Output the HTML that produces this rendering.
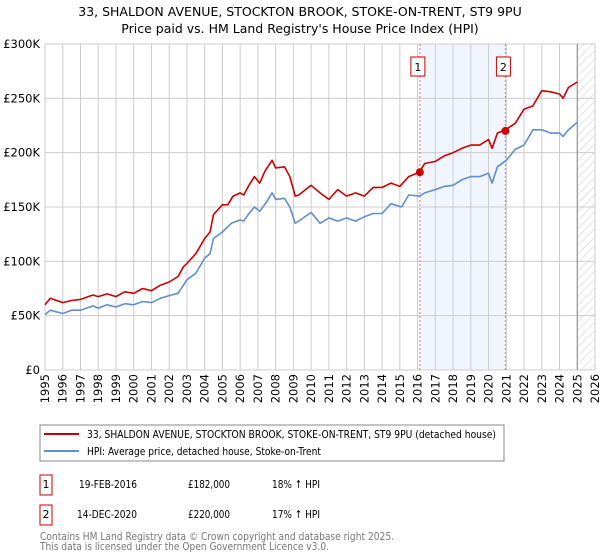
<!DOCTYPE html>
<html><head><meta charset="utf-8">
<style>
body{margin:0;background:#fff;font-family:"DejaVu Sans","Liberation Sans",sans-serif;}
#wrap{position:relative;width:600px;height:560px;overflow:hidden;}
</style></head>
<body><div id="wrap">
<svg id="chart" width="600" height="560" xmlns="http://www.w3.org/2000/svg" font-family="DejaVu Sans, Liberation Sans, sans-serif">
<text x="300" y="16" text-anchor="middle" font-size="12.5" fill="#000">33, SHALDON AVENUE, STOCKTON BROOK, STOKE-ON-TRENT, ST9 9PU</text>
<text x="300" y="33" text-anchor="middle" font-size="12.5" fill="#000">Price paid vs. HM Land Registry's House Price Index (HPI)</text>
<g id="plot"></g>
<rect x="40" y="425" width="464" height="36" fill="#fff" stroke="#888"/>
<line x1="44" y1="434" x2="79" y2="434" stroke="#cc0000" stroke-width="2"/>
<text x="87" y="438" font-size="11" fill="#000" textLength="409" lengthAdjust="spacingAndGlyphs">33, SHALDON AVENUE, STOCKTON BROOK, STOKE-ON-TRENT, ST9 9PU (detached house)</text>
<line x1="44" y1="451" x2="79" y2="451" stroke="#5f8fd0" stroke-width="2"/>
<text x="87" y="455" font-size="11" fill="#000" textLength="234" lengthAdjust="spacingAndGlyphs">HPI: Average price, detached house, Stoke-on-Trent</text>
<g font-size="11" fill="#000">
<rect x="40" y="475" width="12" height="20" fill="none" stroke="#cc0000"/>
<text x="46" y="488" text-anchor="middle">1</text>
<text x="79" y="488" textLength="58" lengthAdjust="spacingAndGlyphs">19-FEB-2016</text>
<text x="188" y="488" textLength="42" lengthAdjust="spacingAndGlyphs">£182,000</text>
<text x="272" y="488" textLength="48" lengthAdjust="spacingAndGlyphs">18% ↑ HPI</text>
<rect x="40" y="505" width="12" height="20" fill="none" stroke="#cc0000"/>
<text x="46" y="518" text-anchor="middle">2</text>
<text x="77" y="518" textLength="60" lengthAdjust="spacingAndGlyphs">14-DEC-2020</text>
<text x="188" y="518" textLength="42" lengthAdjust="spacingAndGlyphs">£220,000</text>
<text x="272" y="518" textLength="48" lengthAdjust="spacingAndGlyphs">17% ↑ HPI</text>
</g>
<text x="40" y="540" font-size="11" fill="#777" textLength="354" lengthAdjust="spacingAndGlyphs">Contains HM Land Registry data © Crown copyright and database right 2025.</text>
<text x="40" y="550" font-size="11" fill="#777" textLength="289" lengthAdjust="spacingAndGlyphs">This data is licensed under the Open Government Licence v3.0.</text>
</svg></div>
<script>
const years=[1995,1996,1997,1998,1999,2000,2001,2002,2003,2004,2005,2006,2007,2008,2009,2010,2011,2012,2013,2014,2015,2016,2017,2018,2019,2020,2021,2022,2023,2024,2025,2026];
const yTicks=[0,50000,100000,150000,200000,250000,300000];
const yTickLabels=["£0","£50K","£100K","£150K","£200K","£250K","£300K"];
const redT=[1995,1995.3,1996,1996.5,1997,1997.7,1998,1998.5,1999,1999.5,2000,2000.5,2001,2001.5,2002,2002.5,2002.8,2003,2003.5,2004,2004.3,2004.5,2005,2005.3,2005.6,2006,2006.2,2006.5,2006.8,2007.1,2007.4,2007.8,2008,2008.5,2008.8,2009.1,2009.3,2010,2010.5,2011,2011.5,2012,2012.5,2013,2013.5,2014,2014.5,2015,2015.5,2016.1,2016.4,2017,2017.5,2018,2018.5,2019,2019.5,2020,2020.2,2020.5,2020.95,2021.5,2022,2022.5,2023,2023.5,2024,2024.2,2024.5,2025];
const redV=[60,66,62,64,65,69,67.5,70,67.5,72,70.6,75,73,78,81,86,95,98,107,121,127,143,152,152,160,163,161,170,178,172,183,193,186,187,178,160,161,170,163,157,166,160,163,160,168,168,172,169,178,182,190,192,197,200,204,207,207,212,204,218,221,227,240,243,257,256,254,250,260,265];
const blueT=[1995,1995.3,1996,1996.5,1997,1997.7,1998,1998.5,1999,1999.5,2000,2000.5,2001,2001.5,2002,2002.5,2003,2003.5,2004,2004.3,2004.5,2005,2005.5,2006,2006.2,2006.5,2006.8,2007.1,2007.5,2007.8,2008,2008.5,2008.8,2009.1,2009.3,2010,2010.5,2011,2011.5,2012,2012.5,2013,2013.5,2014,2014.5,2015.1,2015.5,2016.1,2016.4,2017,2017.5,2018,2018.5,2019,2019.5,2020,2020.2,2020.5,2021,2021.5,2022,2022.5,2023,2023.5,2024,2024.2,2024.5,2025];
const blueV=[51,55,52,55,55,59,57,60,58,61,60,63,62,66,68.5,70.6,83,89,103,107,121,127,135,138,137,144,150,146,155,163,157,158,150,135,137,145,135,140,137,140,137,141,144,144,153,150,161,160,163,166,169,170,175,178,178,181,172,187,193,203,207,221,221,218,218,215,221,228];
const saleT=[2016.13,2020.95];
const saleV=[182000,220000];
const saleLabels=["1","2"];

const L=45,R=595,T=44,B=370,x0=1995,x1=2026;
const X=t=>L+(t-x0)/(x1-x0)*(R-L);
const Y=v=>B-v/300000*(B-T);
const NS="http://www.w3.org/2000/svg";
const g=document.getElementById('plot');
function mk(tag,attrs,parent){const e=document.createElementNS(NS,tag);for(const k in attrs)e.setAttribute(k,attrs[k]);(parent||g).appendChild(e);return e;}
let e=mk('rect',{x:X(saleT[0]),y:T,width:X(saleT[1])-X(saleT[0]),height:B-T,fill:'#eef3fd',opacity:0.8});


const defs=mk('defs',{});
const pat=mk('pattern',{id:'hatch',width:6,height:6,patternUnits:'userSpaceOnUse',patternTransform:'rotate(45)'},defs);
mk('line',{x1:0,y1:0,x2:0,y2:6,stroke:'#ccc','stroke-width':1},pat);
e=mk('rect',{x:X(2025.0),y:T,width:R-X(2025.0),height:B-T,fill:'url(#hatch)'});


years.forEach(yr=>{
 const l=mk('line',{x1:X(yr),x2:X(yr),y1:T,y2:B,stroke:'#ccc','stroke-width':1});
 
 
 const t=mk('text',{x:0,y:0,'font-size':11.5,fill:'#000','text-anchor':'end',transform:`translate(${X(yr)+4},${B+4}) rotate(-90)`});
 t.textContent=yr;
 
 
});
yTicks.forEach((v,i)=>{
 const l=mk('line',{x1:L,x2:R,y1:Y(v),y2:Y(v),stroke:'#ccc','stroke-width':1});
 
 
 const t=mk('text',{x:40,y:Y(v)+4,'font-size':11.5,fill:'#000','text-anchor':'end'});
 t.textContent=yTickLabels[i];
 
 
});
e=mk('line',{x1:X(2025.0),x2:X(2025.0),y1:T,y2:B,stroke:'#888','stroke-width':1});


saleT.forEach((t,i)=>{
 const l=mk('line',{x1:X(t),x2:X(t),y1:T,y2:B,stroke:'#f07070','stroke-width':1,'stroke-dasharray':'2,2'});
 
 
 const r=mk('rect',{x:X(t)-9,y:57,width:14,height:19,fill:'#fff',stroke:'#cc0000'});
 
 
 const tx=mk('text',{x:X(t)-2,y:71,'font-size':11,fill:'#000','text-anchor':'middle'});
 tx.textContent=saleLabels[i];
 
 
});
function line(ts,vs,color,name){
 const d=ts.map((t,i)=>(i?'L':'M')+X(t).toFixed(1)+','+Y(vs[i]*1000).toFixed(1)).join(' ');
 const p=mk('path',{d:d,fill:'none',stroke:color,'stroke-width':1.6,'stroke-linejoin':'round'});
 
 
}
line(blueT,blueV,'#5f8fd0','hpi-line');
line(redT,redV,'#cc0000','property-line');
saleT.forEach((t,i)=>{
 const c=mk('circle',{cx:X(t),cy:Y(saleV[i]),r:4,fill:'#cc0000'});
 
 
});
</script>
</body></html>
